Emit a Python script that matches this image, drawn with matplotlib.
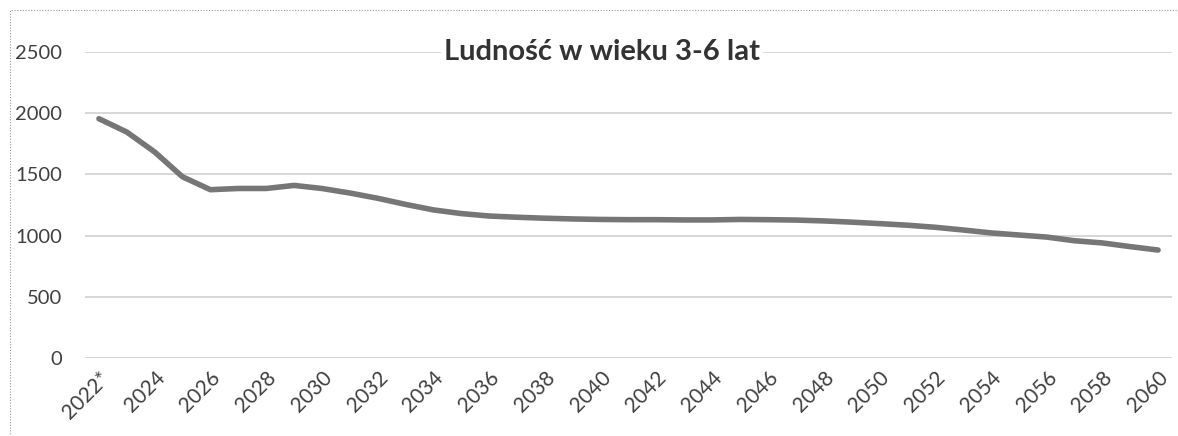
import matplotlib.pyplot as plt
from matplotlib.patches import Rectangle

# Lata prognozy (2022* = dane wyjściowe)
years = list(range(2022, 2061))
year_labels = ["2022*" if y == 2022 else str(y) for y in years]

# Ludność w wieku 3-6 lat
population = [1955, 1846, 1683, 1480, 1375, 1385, 1385, 1410, 1385, 1348,
              1305, 1255, 1210, 1180, 1160, 1150, 1142, 1136, 1132, 1130,
              1130, 1128, 1128, 1132, 1130, 1127, 1120, 1110, 1098, 1085,
              1068, 1046, 1022, 1005, 988, 958, 940, 910, 882]

y_ticks = [0, 500, 1000, 1500, 2000, 2500]

W, H = 1178, 436
fig = plt.figure(figsize=(W / 100, H / 100), dpi=100)
ax = fig.add_axes([85 / W, (H - 358) / H, (1172 - 85) / W, (358 - 52) / H])

x = list(range(len(years)))
ax.plot(x, population, color="#767676", linewidth=4, solid_capstyle="round",
        solid_joinstyle="round", zorder=3)

ax.set_xlim(-0.5, len(years) - 0.5)
ax.set_ylim(0, 2500)
ax.set_yticks(y_ticks)
ax.set_yticklabels([str(v) for v in y_ticks], fontsize=14.5, color="#404040",
                   family="Lato")
ax.set_xticks(x[::2])
ax.set_xticklabels(year_labels[::2], fontsize=15, color="#404040", family="Lato",
                   rotation=45, ha="right", rotation_mode="anchor")
ax.tick_params(axis="y", length=0, pad=16.5)
ax.tick_params(axis="x", length=0, pad=7)

ax.grid(axis="y", color="#d4d4d4", linewidth=1.3)
ax.set_axisbelow(True)
for s in ax.spines.values():
    s.set_visible(False)

# Tytuł na tle siatki
fig.text(602 / W, (H - 52) / H, "Ludność w wieku 3-6 lat", fontsize=21,
         fontweight="bold", color="#333333", family="Lato", ha="center",
         va="center", zorder=5,
         bbox=dict(facecolor="white", edgecolor="none", pad=2))

# Kropkowana ramka obszaru wykresu (skan)
fig.patches.append(Rectangle((10 / W, -0.1), 1.2, (H - 10) / H + 0.1,
                             transform=fig.transFigure, fill=False,
                             edgecolor="#9a9a9a", linestyle=(0, (1, 1.5)),
                             linewidth=0.8))

fig.savefig("out.png", dpi=100)
